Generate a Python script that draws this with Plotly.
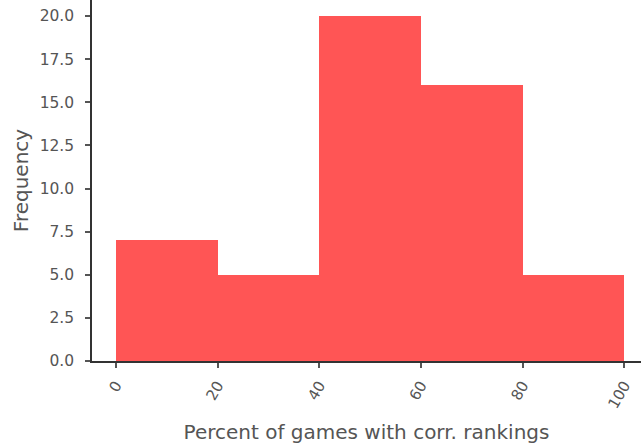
import plotly.graph_objects as go

bin_left = [0, 20, 40, 60, 80]
bin_right = [20, 40, 60, 80, 100]
counts = [7, 5, 20, 16, 5]
x_ticks = [0, 20, 40, 60, 80, 100]
y_ticks = [0, 2.5, 5, 7.5, 10, 12.5, 15, 17.5, 20]

centers = [(a + b) / 2 for a, b in zip(bin_left, bin_right)]
widths = [b - a for a, b in zip(bin_left, bin_right)]

fig = go.Figure(go.Bar(
    x=centers, y=counts, width=widths,
    marker=dict(color="rgb(255,85,85)", line=dict(width=0)),
))

font = "DejaVu Sans"
gray = "#555555"
fig.update_layout(
    width=641, height=447,
    margin=dict(l=92, r=0, t=0, b=86),
    plot_bgcolor="white", paper_bgcolor="white",
    showlegend=False,
    font=dict(family=font, color=gray),
    bargap=0,
)
fig.update_xaxes(
    range=[-4.7, 103.3],
    tickvals=x_ticks, ticktext=[str(v) for v in x_ticks],
    tickangle=-60,
    ticks="outside", ticklen=5, tickcolor=gray, tickwidth=1.5,
    tickfont=dict(size=15, color=gray),
    ticklabelstandoff=3,
    showline=True, linecolor="#333333", linewidth=1.5,
    showgrid=False, zeroline=False,
    title=dict(text="Percent of games with corr. rankings", font=dict(size=20, color=gray), standoff=14),
)
fig.update_yaxes(
    range=[0, 20.93],
    tickvals=y_ticks, ticktext=[f"{v:.1f}" for v in y_ticks],
    ticks="outside", ticklen=5, tickcolor=gray, tickwidth=1.5,
    tickfont=dict(size=15.5, color=gray),
    ticklabelstandoff=8,
    showline=True, linecolor="#333333", linewidth=1.5,
    showgrid=False, zeroline=False,
    title=dict(text="Frequency", font=dict(size=20, color=gray), standoff=6),
)

fig.write_html("out.html")
